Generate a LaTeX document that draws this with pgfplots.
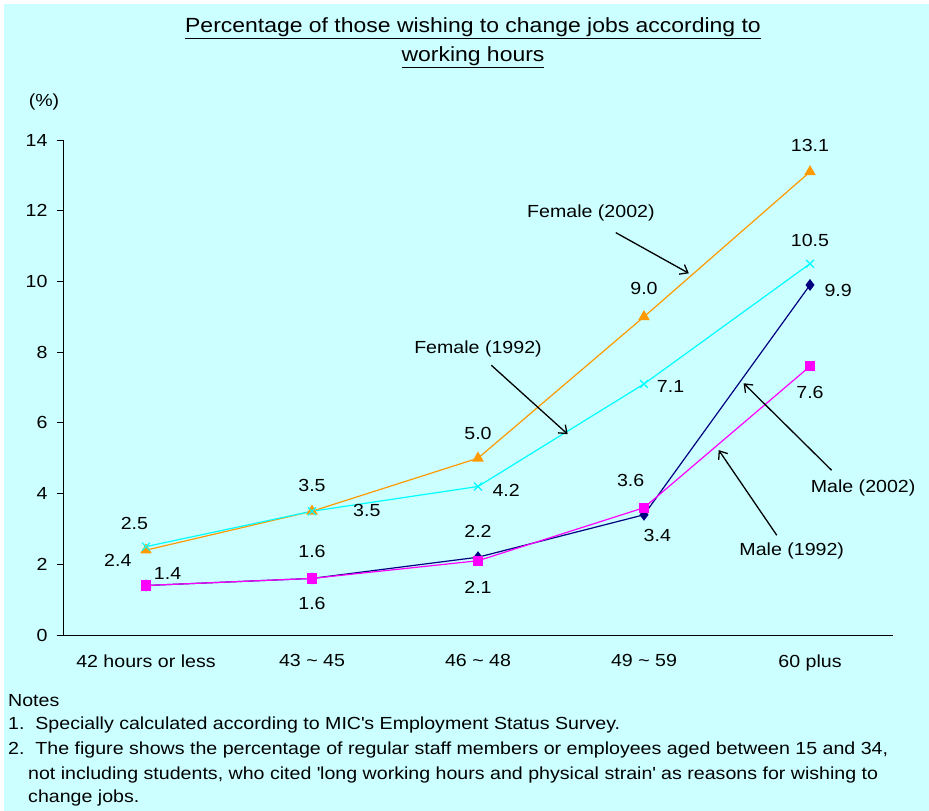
\documentclass[border=0pt]{standalone}
\usepackage{fontspec}
\setmainfont{Liberation Sans}[FakeStretch=1.12]
\usepackage{pgfplots}
\usepackage{pgfplotstable}
\pgfplotsset{compat=1.18}
\usetikzlibrary{arrows.meta}
\definecolor{bg}{HTML}{CCFFFF}
\definecolor{forange}{HTML}{FF9900}
\definecolor{fcyan}{HTML}{00FFFF}
\definecolor{mnavy}{HTML}{000080}
\definecolor{mmag}{HTML}{FF00FF}
\pgfplotstableread{
x f02 f92 m02 m92
0 2.4 2.5 1.4 1.4
1 3.5 3.5 1.6 1.6
2 5.0 4.2 2.2 2.1
3 9.0 7.1 3.4 3.6
4 13.1 10.5 9.9 7.6
}\datatable
\begin{document}
\begin{tikzpicture}[x=1pt,y=1pt]
\fill[white] (0,0) rectangle (929,811);
\fill[bg] (4,0) rectangle (929,807);
\node[font=\fontsize{20.5}{24}\selectfont] at (473,783) {\underline{Percentage of those wishing to change jobs according to}};
\node[font=\fontsize{20.5}{24}\selectfont] at (473,754) {\underline{working hours}};
\node[font=\fontsize{17.5}{20}\selectfont] at (44,709) {(\%)};
\begin{axis}[
  at={(63pt,176pt)}, anchor=south west,
  scale only axis, width=830pt, height=495pt,
  xmin=-0.5, xmax=4.5, ymin=0, ymax=14,
  axis x line*=bottom, axis y line*=left,
  axis line style={black, line width=0.8pt},
  xtick={0,1,2,3,4},
  xticklabels={42 hours or less, 43 \textasciitilde\ 45, 46 \textasciitilde\ 48, 49 \textasciitilde\ 59, 60 plus},
  major x tick style={draw=none},
  extra x ticks={0.5,1.5,2.5,3.5,4.5},
  extra x tick labels={},
  extra x tick style={major tick length=6pt, tick style={draw=black, line width=0.8pt}},
  ytick={0,2,...,14},
  tick align=outside,
  major tick length=6pt,
  tick style={black, line width=0.8pt},
  ticklabel style={font=\fontsize{17.5}{20}\selectfont},
  /pgf/number format/assume math mode=true,
  xticklabel style={yshift=-10pt},
  yticklabel style={xshift=-6pt},
  clip=false,
]
\addplot[forange, line width=1.2pt, mark=triangle*, mark size=5.5pt] table[x=x,y=f02] {\datatable};
\addplot[fcyan, line width=1.2pt, mark=x, mark size=5.5pt, mark options={line width=1.2pt}] table[x=x,y=f92] {\datatable};
\addplot[mnavy, line width=1.2pt, mark=diamond*, mark size=5pt] table[x=x,y=m02] {\datatable};
\addplot[mmag, line width=1.2pt, mark=square*, mark size=4.5pt] table[x=x,y=m92] {\datatable};
% data labels
\begin{scope}[every node/.style={font=\fontsize{17.5}{20}\selectfont}]
\node at (axis cs:-0.07,3.16) {2.5};
\node at (axis cs:-0.17,2.12) {2.4};
\node at (axis cs:0.13,1.75) {1.4};
\node at (axis cs:1,4.24) {3.5};
\node at (axis cs:1.33,3.53) {3.5};
\node at (axis cs:1,2.37) {1.6};
\node at (axis cs:1,0.90) {1.6};
\node at (axis cs:2,5.7) {5.0};
\node at (axis cs:2.17,4.1) {4.2};
\node at (axis cs:2,2.94) {2.2};
\node at (axis cs:2,1.36) {2.1};
\node at (axis cs:3,9.8) {9.0};
\node at (axis cs:3.16,7.03) {7.1};
\node at (axis cs:2.92,4.38) {3.6};
\node at (axis cs:3.08,2.82) {3.4};
\node at (axis cs:4,13.84) {13.1};
\node at (axis cs:4,11.16) {10.5};
\node at (axis cs:4.17,9.75) {9.9};
\node at (axis cs:4,6.86) {7.6};
\node at (axis cs:2.68,11.95) {Female (2002)};
\node at (axis cs:2.0,8.08) {Female (1992)};
\node at (axis cs:4.32,4.15) {Male (2002)};
\node at (axis cs:3.89,2.37) {Male (1992)};
\end{scope}
\begin{scope}[line width=1.3pt, -{Straight Barb[length=7pt,width=11pt]}]
\draw (axis cs:2.83,11.38) -- (axis cs:3.27,10.23);
\draw (axis cs:2.08,7.63) -- (axis cs:2.54,5.68);
\draw (axis cs:4.13,4.66) -- (axis cs:3.60,7.12);
\draw (axis cs:3.80,2.82) -- (axis cs:3.45,5.23);
\end{scope}
\end{axis}
\begin{scope}[every node/.style={anchor=base west, font=\fontsize{17.5}{20}\selectfont, inner sep=0pt}]
\node at (8,811-707) {Notes};
\node at (8,811-730) {1.\ \ Specially calculated according to MIC\textquotesingle s Employment Status Survey.};
\node at (8,811-755) {2.\ \ The figure shows the percentage of regular staff members or employees aged between 15 and 34,};
\node at (28,811-780) {not including students, who cited \textquotesingle long working hours and physical strain\textquotesingle\ as reasons for wishing to};
\node at (28,811-803) {change jobs.};
\end{scope}
\end{tikzpicture}
\end{document}
